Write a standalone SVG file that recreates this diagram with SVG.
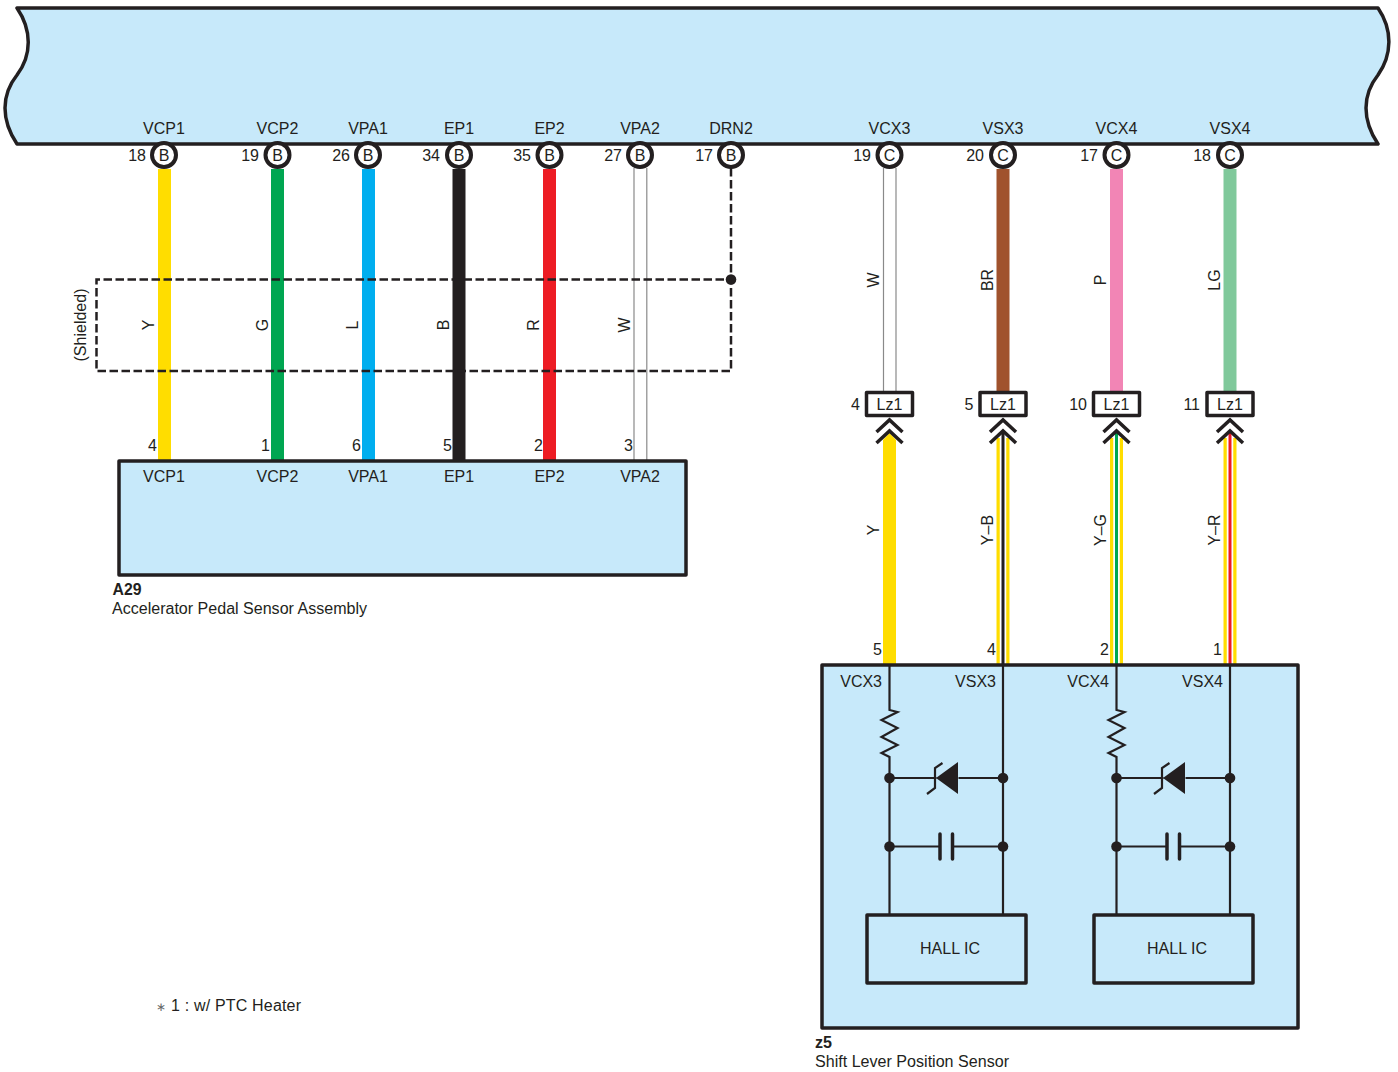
<svg xmlns="http://www.w3.org/2000/svg" width="1398" height="1072" viewBox="0 0 1398 1072">
<style>
text{font-family:"Liberation Sans",Arial,sans-serif;font-size:16px;fill:#231f20}
.m{text-anchor:middle}.e{text-anchor:end}
.b{fill:#c7e9fa;stroke:#231f20;stroke-width:3.5;stroke-linejoin:round}
.pin{fill:#fff;stroke:#231f20;stroke-width:4}
.w{fill:none;stroke-width:13}
.c{fill:none;stroke:#231f20;stroke-width:2.2}
.g{fill:none;stroke:#8a8a8a;stroke-width:1.2}
.d{fill:#231f20;stroke:none}
.s{fill:none;stroke:#231f20;stroke-width:2.5;stroke-dasharray:8.500 3.500}
.lz{fill:#fff;stroke:#231f20;stroke-width:3.5;stroke-linejoin:round}
.ch{fill:none;stroke:#231f20;stroke-width:3.5}
.hall{fill:none;stroke:#231f20;stroke-width:3.5;stroke-linejoin:round}
.n{font-size:12px;fill:#666}
</style>
<defs>
<g id="chev"><path class="ch" d="M-13,12 L0,0 L13,12M-13,23 L0,11 L13,23"/></g>
<g id="ckt">
<path class="c" d="M0,665V710L8,712L-8,720L8,728L-8,737L8,745L-8,753L0,757V914M113.500,665V914M0,778H47M69,778H113.500M0,846.500H50.500M63,846.500H113.500"/>
<path class="d" d="M46.500,778L68.500,762V794Z"/>
<path class="c" d="M53,763L45.500,768V788L37.500,794"/>
<path d="M50.500,834V859M63,834V859" fill="none" stroke="#231f20" stroke-width="3.500" stroke-linecap="round"/>
<circle class="d" cx="0" cy="778" r="5.300"/><circle class="d" cx="113.500" cy="778" r="5.300"/>
<circle class="d" cx="0" cy="846.500" r="5.300"/><circle class="d" cx="113.500" cy="846.500" r="5.300"/>
</g>
</defs>
<g id="ecm">
<path class="b" d="M17,8H1378C1393,30 1392,55 1378,75C1362,95 1362,120 1378,144H17C1,120 1,95 17,75C32,55 32,30 17,8Z"/>
<text class="m" x="164" y="134">VCP1</text><text class="m" x="277.500" y="134">VCP2</text><text class="m" x="368" y="134">VPA1</text><text class="m" x="459" y="134">EP1</text><text class="m" x="549.500" y="134">EP2</text><text class="m" x="640" y="134">VPA2</text><text class="m" x="731" y="134">DRN2</text><text class="m" x="889.500" y="134">VCX3</text><text class="m" x="1003" y="134">VSX3</text><text class="m" x="1116.500" y="134">VCX4</text><text class="m" x="1230" y="134">VSX4</text>
</g>
<g id="connectors">
<path class="w" stroke="#ffdd00" d="M164.500,169V460"/>
<path class="w" stroke="#00a651" d="M277.500,169V460"/>
<path class="w" stroke="#00aeef" d="M368.500,169V460"/>
<path class="w" stroke="#231f20" d="M459,169V460"/>
<path class="w" stroke="#ed1c24" d="M549.500,169V460"/>
<path class="g" d="M634,168V460M646.800,168V460M883.500,168V392M896,168V392"/>
<path class="w" stroke="#a0522d" d="M1003,169V392"/>
<path class="w" stroke="#f285b5" d="M1116.500,169V392"/>
<path class="w" stroke="#80c99b" d="M1230,169V392"/>
<path d="M883,440L889.500,433L896,440V665H883Z" fill="#ffdd00"/>
<path d="M1003,438V665M1116.500,438V665M1230,438V665" stroke="#ffdd00" stroke-width="13" fill="none"/>
<path d="M1003,432V665M1116.500,432V665M1230,432V665" stroke="#fff" stroke-width="6.500" fill="none"/>
<path d="M1003,432V665" stroke="#231f20" stroke-width="3" fill="none"/>
<path d="M1116.500,432V665" stroke="#00a651" stroke-width="3" fill="none"/>
<path d="M1230,432V665" stroke="#ed1c24" stroke-width="3" fill="none"/>
<path class="s" d="M731,168V371H96.500V279.500H731"/>
<circle class="d" cx="731" cy="279.500" r="5.300"/>
</g>
<g id="pins">
<g id="pin-a"><circle class="pin" cx="164" cy="155" r="12"/><text class="m" x="164" y="161">B</text><text class="e" x="146" y="161">18</text></g>
<g id="pin-b"><circle class="pin" cx="277.500" cy="155" r="12"/><text class="m" x="277.500" y="161">B</text><text class="e" x="259" y="161">19</text></g>
<g id="pin-c"><circle class="pin" cx="368" cy="155" r="12"/><text class="m" x="368" y="161">B</text><text class="e" x="350" y="161">26</text></g>
<g id="pin-d"><circle class="pin" cx="459" cy="155" r="12"/><text class="m" x="459" y="161">B</text><text class="e" x="440" y="161">34</text></g>
<g id="pin-e"><circle class="pin" cx="549.500" cy="155" r="12"/><text class="m" x="549.500" y="161">B</text><text class="e" x="531" y="161">35</text></g>
<g id="pin-f"><circle class="pin" cx="640" cy="155" r="12"/><text class="m" x="640" y="161">B</text><text class="e" x="622" y="161">27</text></g>
<g id="pin-g"><circle class="pin" cx="731" cy="155" r="12"/><text class="m" x="731" y="161">B</text><text class="e" x="713" y="161">17</text></g>
<g id="pin-h"><circle class="pin" cx="889.500" cy="155" r="12"/><text class="m" x="889.500" y="161">C</text><text class="e" x="871" y="161">19</text></g>
<g id="pin-i"><circle class="pin" cx="1003" cy="155" r="12"/><text class="m" x="1003" y="161">C</text><text class="e" x="984" y="161">20</text></g>
<g id="pin-j"><circle class="pin" cx="1116.500" cy="155" r="12"/><text class="m" x="1116.500" y="161">C</text><text class="e" x="1098" y="161">17</text></g>
<g id="pin-k"><circle class="pin" cx="1230" cy="155" r="12"/><text class="m" x="1230" y="161">C</text><text class="e" x="1211" y="161">18</text></g>
</g>
<g id="wire-labels">
<text class="m" transform="translate(154,325) rotate(-90)">Y</text>
<text class="m" transform="translate(268,325) rotate(-90)">G</text>
<text class="m" transform="translate(358,325) rotate(-90)">L</text>
<text class="m" transform="translate(449,325) rotate(-90)">B</text>
<text class="m" transform="translate(539,325) rotate(-90)">R</text>
<text class="m" transform="translate(630,325) rotate(-90)">W</text>
<text class="m" transform="translate(879,280) rotate(-90)">W</text>
<text class="m" transform="translate(993,280) rotate(-90)">BR</text>
<text class="m" transform="translate(1106,280) rotate(-90)">P</text>
<text class="m" transform="translate(1220,280) rotate(-90)">LG</text>
<text class="m" transform="translate(879,530) rotate(-90)">Y</text>
<text class="m" transform="translate(993,530) rotate(-90)">Y–B</text>
<text class="m" transform="translate(1106,530) rotate(-90)">Y–G</text>
<text class="m" transform="translate(1220,530) rotate(-90)">Y–R</text>
<text class="m" transform="translate(86,325) rotate(-90)">(Shielded)</text>
</g>
<g id="lz1-1"><rect class="lz" x="866.500" y="392.500" width="46" height="23"/><text class="m" x="889.500" y="410">Lz1</text><text class="e" x="860" y="410">4</text><use href="#chev" x="889.500" y="420"/></g>
<g id="lz1-2"><rect class="lz" x="980" y="392.500" width="46" height="23"/><text class="m" x="1003" y="410">Lz1</text><text class="e" x="973.500" y="410">5</text><use href="#chev" x="1003" y="420"/></g>
<g id="lz1-3"><rect class="lz" x="1093.500" y="392.500" width="46" height="23"/><text class="m" x="1116.500" y="410">Lz1</text><text class="e" x="1087" y="410">10</text><use href="#chev" x="1116.500" y="420"/></g>
<g id="lz1-4"><rect class="lz" x="1207" y="392.500" width="46" height="23"/><text class="m" x="1230" y="410">Lz1</text><text class="e" x="1200" y="410">11</text><use href="#chev" x="1230" y="420"/></g>
<g id="a29">
<rect class="b" x="119" y="461" width="567" height="114"/>
<text class="m" x="164" y="482">VCP1</text><text class="m" x="277.500" y="482">VCP2</text><text class="m" x="368" y="482">VPA1</text><text class="m" x="459" y="482">EP1</text><text class="m" x="549.500" y="482">EP2</text><text class="m" x="640" y="482">VPA2</text>
<text class="e" x="157" y="451">4</text><text class="e" x="270" y="451">1</text><text class="e" x="361" y="451">6</text><text class="e" x="452" y="451">5</text><text class="e" x="543" y="451">2</text><text class="e" x="633" y="451">3</text>
<text x="112.500" y="595" font-weight="bold" textLength="29" lengthAdjust="spacingAndGlyphs">A29</text>
<text x="112" y="614" textLength="255" lengthAdjust="spacingAndGlyphs">Accelerator Pedal Sensor Assembly</text>
</g>
<g id="z5">
<rect class="b" x="822" y="665" width="476" height="363"/>
<use href="#ckt" x="889.500"/><use href="#ckt" x="1116.500"/>
<text class="e" x="882" y="687">VCX3</text><text class="e" x="996" y="687">VSX3</text><text class="e" x="1109" y="687">VCX4</text><text class="e" x="1223" y="687">VSX4</text>
<text class="e" x="882" y="655">5</text><text class="e" x="996" y="655">4</text><text class="e" x="1109" y="655">2</text><text class="e" x="1222" y="655">1</text>
<text x="815" y="1048" font-weight="bold" textLength="17" lengthAdjust="spacingAndGlyphs">z5</text>
<text x="815" y="1067" textLength="194" lengthAdjust="spacingAndGlyphs">Shift Lever Position Sensor</text>
</g>
<g id="hall-1"><rect class="hall" x="867" y="915" width="159" height="68"/><text class="m" x="950" y="954">HALL IC</text></g>
<g id="hall-2"><rect class="hall" x="1094" y="915" width="159" height="68"/><text class="m" x="1177" y="954">HALL IC</text></g>
<text id="note" x="156" y="1011" letter-spacing="0.18"><tspan class="n">∗</tspan><tspan x="171">1 : w/ PTC Heater</tspan></text>
</svg>
